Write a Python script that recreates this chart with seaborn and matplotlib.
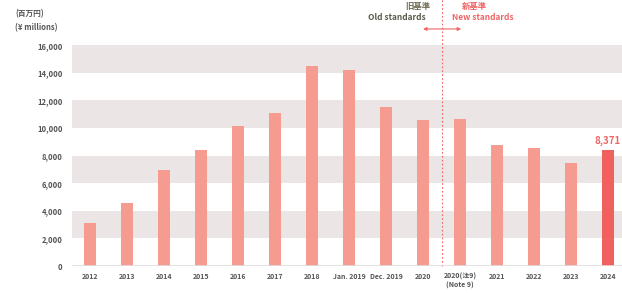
import matplotlib
matplotlib.use("Agg")
import matplotlib.pyplot as plt
import seaborn as sns
import pandas as pd

# data
labels = ["2012", "2013", "2014", "2015", "2016", "2017", "2018", "Jan. 2019",
          "Dec. 2019", "2020", "2020(注9)\n(Note 9)", "2021", "2022", "2023", "2024"]
values = [3150, 4550, 6950, 8400, 10150, 11050, 14500, 14200,
          11500, 10600, 10650, 8800, 8550, 7450, 8371]
yticks = [0, 2000, 4000, 6000, 8000, 10000, 12000, 14000, 16000]

sns.set_theme(style="white")
plt.rcParams['font.family'] = ['Noto Sans CJK JP', 'DejaVu Sans']

bar_color = "#f59b90"
last_color = "#f0605f"
red = "#f06466"
text_gray = "#555555"

df = pd.DataFrame({"label": labels, "value": values})
palette = [bar_color] * (len(labels) - 1) + [last_color]

fig = plt.figure(figsize=(6.22, 2.93), dpi=100)
ax = fig.add_axes([0.116, 0.092, 0.884, 0.754])

# alternating bands
for lo in [2000, 6000, 10000, 14000]:
    ax.axhspan(lo, lo + 2000, color="#ebe5e6", zorder=0, lw=0)

sns.barplot(data=df, x="label", y="value", hue="label", palette=palette,
            legend=False, width=0.33, saturation=1, linewidth=0,
            edgecolor="none", ax=ax, zorder=2)

ax.set_xlim(-0.49, 14.38)
ax.set_ylim(0, 16000)
ax.set_yticks(yticks)
ax.set_yticklabels([f"{v:,}" for v in yticks], fontsize=5.5, fontweight="bold", color=text_gray)
ax.tick_params(axis="x", labelsize=5, colors=text_gray, length=0, pad=5)
ax.tick_params(axis="y", length=0, pad=7)
for t in ax.get_xticklabels():
    t.set_fontweight("bold")
    t.set_verticalalignment("top")
ax.set_xlabel("")
ax.set_ylabel("")
for s in ax.spines.values():
    s.set_visible(False)
ax.axhline(0, color="#dddddd", lw=1.2, zorder=3)

# value label for latest year
ax.text(14, values[-1] + 350, f"{values[-1]:,}", ha="center", va="bottom",
        color=red, fontsize=7, fontweight="bold")

# standards divider
ax.axvline(9.5, ymin=0, ymax=1.22, color=red, ls=(0, (1.5, 2)), lw=0.8, clip_on=False)
ax.annotate("", xy=(9.0, 17170), xytext=(10.03, 17170), annotation_clip=False,
            arrowprops=dict(arrowstyle="<|-|>", color=red, lw=0.8,
                            mutation_scale=5, shrinkA=0, shrinkB=0))
ax.text(9.08, 18000, "Old standards", ha="right", va="center", fontsize=6,
        fontweight="bold", color="#5c5c4c")
ax.text(8.86, 18800, "旧基準", ha="center", va="center", fontsize=6,
        fontweight="bold", color="#6e6b55")
ax.text(9.78, 18000, "New standards", ha="left", va="center", fontsize=6,
        fontweight="bold", color=red)
ax.text(10.38, 18800, "新基準", ha="center", va="center", fontsize=6,
        fontweight="bold", color=red)

fig.text(0.024, 0.952, "(百万円)", fontsize=5.5, fontweight="bold", color=text_gray, va="center")
fig.text(0.024, 0.905, "(¥ millions)", fontsize=5.5, fontweight="bold", color=text_gray, va="center")

fig.savefig("out.png", dpi=100)
